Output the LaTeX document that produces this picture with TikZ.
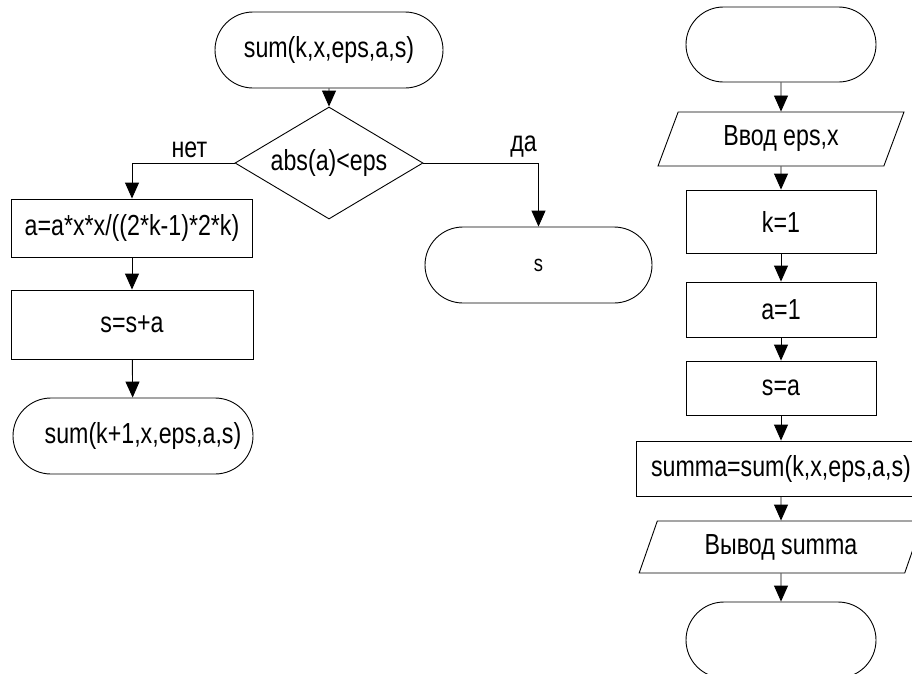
\documentclass[tikz,border=0pt]{standalone}
\usepackage{fontspec}
\setmainfont{Liberation Sans}[FakeStretch=0.8]
\usetikzlibrary{arrows.meta}
\usetikzlibrary{shapes.misc}
\usetikzlibrary{shapes.geometric}

\tikzset{
	block/.style={draw, line width=0.9pt, inner sep=0pt, font=\fontsize{29}{34}\selectfont},
	terminal/.style={block, rounded rectangle, minimum width=190pt, minimum height=76pt},
	process/.style={block, rectangle, minimum width=190pt, minimum height=55pt},
	inout/.style={block, trapezium, trapezium left angle=66.5, trapezium right angle=113.5, trapezium stretches=true, minimum height=54pt},
	decision/.style={block, diamond, aspect=1.68, minimum width=188pt, minimum height=112pt},
	branch/.style={font=\fontsize{29}{34}\selectfont, inner sep=5pt},
	flow/.style={line width=0.9pt, -{Triangle[width=14pt,length=16pt]}}
}

\begin{document}
\begin{tikzpicture}[x=1pt, y=-1pt]
	\useasboundingbox (0,0) rectangle (912,673);
	% recursive function
	\node[terminal, minimum width=228pt] (start) at (329,50) {sum(k,x,eps,a,s)};
	\node[decision] (check) at (329,163) {abs(a)<eps};
	\node[process, minimum width=241pt, minimum height=58pt] (next) at (132,228) {a=a*x*x/((2*k-1)*2*k)};
	\node[process, minimum width=242pt, minimum height=69pt] (acc) at (132,324.5) {s=s+a};
	\node[terminal, minimum width=240pt] (again) at (133,436) {\hspace*{20pt}sum(k+1,x,eps,a,s)};
	\node[terminal, minimum width=227pt, font=\fontsize{23}{27}\selectfont] (ret) at (538.5,265) {s};
	\draw[flow] (start) -- (check);
	\draw[flow] (check.west) -| (next.north) node [branch, above, pos=0.22] {нет};
	\draw[flow] (check.east) -| (ret.north) node [branch, above, pos=0.435] {да};
	\draw[flow] (next) -- (acc);
	\draw[flow] (acc) -- (again);
	% main program
	\node[terminal, minimum height=75pt] (begin) at (781,44.5) {};
	\node[inout, minimum width=246pt] (input) at (781,139) {Ввод eps,x};
	\node[process, minimum height=63pt] (initk) at (781,221.5) {k=1};
	\node[process] (inita) at (781,309.5) {a=1};
	\node[process, minimum height=54pt] (inits) at (781,388) {s=a};
	\node[process, minimum width=290pt] (call) at (781,468.5) {summa=sum(k,x,eps,a,s)};
	\node[inout, minimum width=284pt, minimum height=52pt] (output) at (781,547) {Вывод summa};
	\node[terminal] (finish) at (781,640) {};
	\draw[flow] (begin) -- (input);
	\draw[flow] (input) -- (initk);
	\draw[flow] (initk) -- (inita);
	\draw[flow] (inita) -- (inits);
	\draw[flow] (inits) -- (call);
	\draw[flow] (call) -- (output);
	\draw[flow] (output) -- (finish);
\end{tikzpicture}
\end{document}
